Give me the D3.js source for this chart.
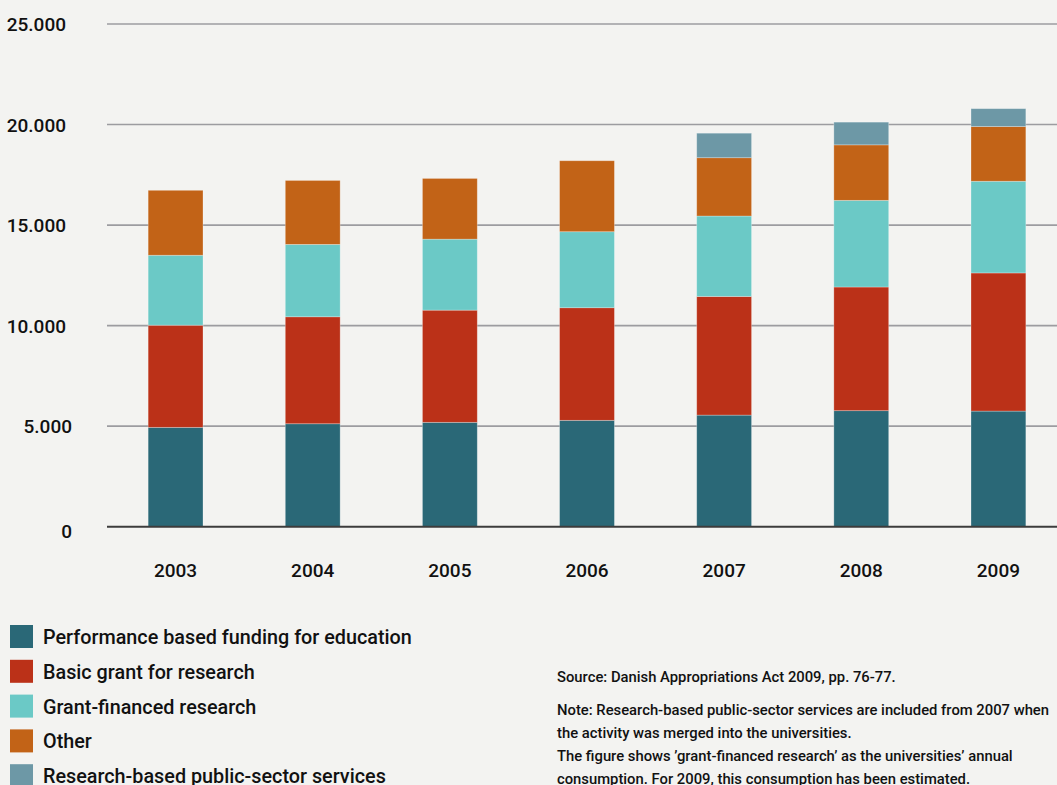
<!DOCTYPE html>
<html lang="en">
<head>
    <meta charset="UTF-8">
    <title>University funding 2003-2009</title>
    <script src="https://d3js.org/d3.v7.min.js"></script>
    <style>
        body {
            margin: 0;
            background-color: #f3f3f1;
            font-family: Roboto, "Noto Sans", sans-serif;
        }
        svg {
            display: block;
            background-color: #f3f3f1;
        }
        .tick-label {
            font-size: 19px;
            font-weight: 500;
            fill: #111;
        }
        .legend-label {
            font-size: 19.8px;
            font-weight: 500;
            fill: #111;
        }
        .note {
            font-size: 14.8px;
            font-weight: 500;
            fill: #111;
        }
    </style>
</head>
<body>
    <svg id="chart" width="1057" height="785"></svg>

    <script>
        // Data (DKK million)
        const years = ["2003", "2004", "2005", "2006", "2007", "2008", "2009"];
        const performance = [4940, 5120, 5190, 5290, 5550, 5770, 5750];
        const basicGrant = [5080, 5320, 5580, 5600, 5900, 6150, 6870];
        const grantFinanced = [3480, 3600, 3530, 3780, 4000, 4310, 4560];
        const other = [3230, 3180, 3020, 3530, 2900, 2760, 2720];
        const publicServices = [0, 0, 0, 0, 1220, 1130, 890];

        const seriesNames = [
            "Performance based funding for education",
            "Basic grant for research",
            "Grant-financed research",
            "Other",
            "Research-based public-sector services"
        ];
        const seriesColors = ["#2a6877", "#bb3118", "#6bc9c6", "#c26317", "#6d98a6"];
        const yTicks = [0, 5000, 10000, 15000, 20000, 25000];

        const notes = [
            "Source: Danish Appropriations Act 2009, pp. 76-77.",
            "Note: Research-based public-sector services are included from 2007 when",
            "the activity was merged into the universities.",
            "The figure shows \u2019grant-financed research\u2019 as the universities\u2019 annual",
            "consumption. For 2009, this consumption has been estimated."
        ];

        // Build rows for the stack
        const keys = ["performance", "basicGrant", "grantFinanced", "other", "publicServices"];
        const cols = [performance, basicGrant, grantFinanced, other, publicServices];
        const rows = years.map((y, i) => {
            const r = {year: y};
            keys.forEach((k, j) => r[k] = cols[j][i]);
            return r;
        });
        const stacked = d3.stack().keys(keys)(rows);

        const svg = d3.select("#chart");

        // Scales
        const x = d3.scaleBand()
            .domain(years)
            .range([107, 1067])
            .paddingInner(0.6)
            .paddingOuter(0.3);

        const y = d3.scaleLinear()
            .domain([0, 25000])
            .range([526.7, 24]);

        const locale = d3.formatLocale({decimal: ",", thousands: ".", grouping: [3], currency: ["", ""]});
        const fmt = locale.format(",");

        // Gridlines
        svg.append("g")
            .selectAll("line")
            .data(yTicks.filter(d => d > 0))
            .join("line")
            .attr("x1", 107)
            .attr("x2", 1057)
            .attr("y1", d => y(d))
            .attr("y2", d => y(d))
            .attr("stroke", "#9c9ca0")
            .attr("stroke-width", 1.6);

        // Y labels
        svg.append("g")
            .selectAll("text")
            .data(yTicks)
            .join("text")
            .attr("class", "tick-label")
            .attr("text-anchor", "end")
            .attr("x", d => d >= 10000 ? 66 : 72)
            .attr("y", d => y(d) + (d === 0 ? 11 : 7))
            .text(d => fmt(d));

        // Bars
        svg.append("g")
            .selectAll("g")
            .data(stacked)
            .join("g")
            .attr("fill", (d, i) => seriesColors[i])
            .selectAll("rect")
            .data(d => d.filter(s => s[1] - s[0] > 0))
            .join("rect")
            .attr("x", d => x(d.data.year))
            .attr("width", x.bandwidth())
            .attr("y", d => y(d[1]))
            .attr("height", d => y(d[0]) - y(d[1]))
            .attr("stroke", "rgba(255,255,255,0.35)")
            .attr("stroke-width", 0.8);

        // Baseline
        svg.append("line")
            .attr("x1", 107)
            .attr("x2", 1057)
            .attr("y1", y(0))
            .attr("y2", y(0))
            .attr("stroke", "#3c3c3c")
            .attr("stroke-width", 2);

        // X labels
        svg.append("g")
            .selectAll("text")
            .data(years)
            .join("text")
            .attr("class", "tick-label")
            .attr("text-anchor", "middle")
            .attr("x", d => x(d) + x.bandwidth() / 2)
            .attr("y", 577)
            .text(d => d);

        // Legend
        const legend = svg.append("g")
            .selectAll("g")
            .data(seriesNames)
            .join("g")
            .attr("transform", (d, i) => `translate(10,${625 + i * 34.8})`);

        legend.append("rect")
            .attr("width", 23)
            .attr("height", 23)
            .attr("fill", (d, i) => seriesColors[i]);

        legend.append("text")
            .attr("class", "legend-label")
            .attr("x", 33)
            .attr("y", 19)
            .text(d => d);

        // Source and notes
        const noteY = [681.5, 715, 737.5, 761, 783.5];
        svg.append("g")
            .selectAll("text")
            .data(notes)
            .join("text")
            .attr("class", "note")
            .attr("x", 557)
            .attr("y", (d, i) => noteY[i])
            .text(d => d);
    </script>
</body>
</html>
